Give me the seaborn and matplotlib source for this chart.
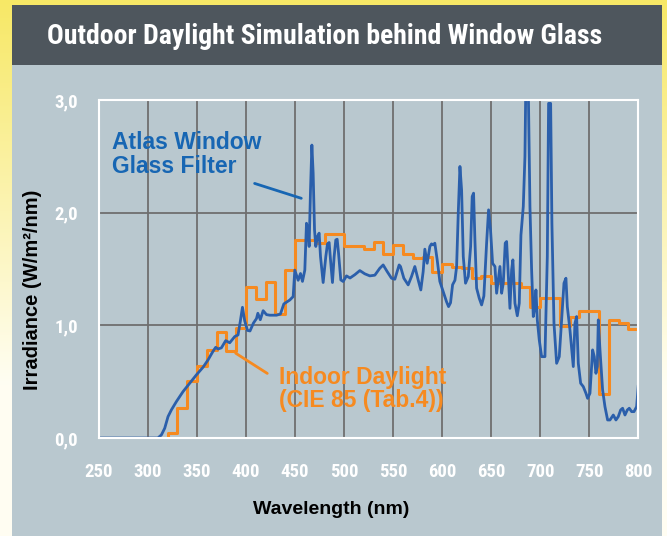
import matplotlib
matplotlib.use("Agg")
import matplotlib.pyplot as plt
from matplotlib import font_manager as fm
from matplotlib.patches import Rectangle
from matplotlib.ticker import FuncFormatter
import seaborn as sns
import numpy as np

# Atlas window glass filter spectrum (nm, W/m2/nm)
glass_wl = [250, 300, 310, 313.6, 317, 320.4, 323.8, 328.9, 335.7, 342.5, 349.3, 356.1, 361.2,
            366.3, 369, 371.4, 374.8, 379.2, 383.3, 388.4, 391.8, 394.2, 396.3, 398.6, 401.4,
            404, 407.5, 410.6, 412, 414.5, 417.4, 420.8, 424.2, 431, 435, 438.5, 444.6, 448,
            449.7, 453.1, 455.5, 457.5, 459.9, 461.6, 463.3, 464.3, 465.7, 467.1, 468.4, 469.8,
            471.1, 472.8, 474.5, 475.9, 478.6, 481.3, 483, 484.7, 486.1, 488.1, 489.8, 491.5,
            492.9, 494.3, 496.6, 499, 502.4, 506, 511, 516, 521.1, 526.2, 531.3, 536.4, 539.8,
            543.9, 548.3, 551.7, 556.1, 557.5, 560.9, 565.3, 568.7, 572.1, 575.5, 578.2, 580.6,
            582.3, 584.7, 587.4, 589.1, 590.8, 592.5, 594.9, 597.6, 601, 604.4, 606.5, 608.5,
            610.6, 613, 614.7, 616.4, 618.1, 619.8, 621.5, 623.8, 626.6, 629, 630.6, 632, 633.4,
            635.1, 637.8, 640.2, 642.5, 645.3, 647.3, 649.3, 651.4, 653.8, 655.5, 657.2, 658.9,
            660.6, 662.3, 664.3, 665.7, 667.4, 669.1, 670.8, 672.1, 674.2, 676.6, 678.6, 680.3,
            682.7, 684.4, 685.5, 687.5, 689.5, 691.2, 692.9, 694.6, 695.6, 697, 699, 701.4,
            704.8, 707.2, 708.5, 710.6, 711.9, 714, 716.7, 719.4, 721.8, 724.2, 726.2, 727.6,
            730.3, 733.7, 735.4, 737.1, 738.8, 741.2, 743.9, 746.6, 748.3, 750.7, 753.4, 755.1,
            756.8, 758.2, 759.2, 760.9, 763.6, 766, 768.7, 771.1, 774.5, 777.2, 779.6, 782, 784,
            786.4, 788.8, 790.8, 793.2, 795.6, 798.3, 800]
glass_irr = [0, 0, 0, 0.027, 0.086, 0.19, 0.249, 0.323, 0.412, 0.486, 0.56, 0.628, 0.693,
             0.77, 0.805, 0.79, 0.80, 0.864, 0.845, 0.90, 0.915, 1.04, 1.16, 1.04, 0.955,
             0.95, 1.02, 1.06, 1.107, 1.05, 1.13, 1.095, 1.09, 1.09, 1.10, 1.19, 1.225, 1.255,
             1.49, 1.40, 1.46, 1.39, 1.49, 1.906, 1.847, 1.70, 2.20, 2.60, 2.35, 1.847,
             1.70, 1.788, 1.818, 1.61, 1.38, 1.61, 1.723, 1.735, 1.581, 1.38, 1.61, 1.758,
             1.764, 1.64, 1.403, 1.389, 1.439, 1.42, 1.45, 1.486, 1.457, 1.439, 1.445, 1.507, 1.536,
             1.477, 1.418, 1.409, 1.536, 1.522, 1.418, 1.359, 1.433, 1.522, 1.403, 1.314, 1.477,
             1.676, 1.551, 1.699, 1.723, 1.714, 1.729, 1.581, 1.39, 1.30, 1.21, 1.166, 1.20,
             1.36, 1.40, 1.52, 2.0, 2.41, 2.20, 1.61, 1.374, 1.433, 1.70, 2.143, 2.173, 1.75,
             1.33, 1.24, 1.181, 1.26, 1.73, 2.025, 1.847, 1.55, 1.522, 1.285, 1.40, 1.522,
             1.285, 1.374, 1.73, 1.744, 1.45, 1.151, 1.492, 1.581, 1.196, 1.085, 1.196, 1.80,
             2.054, 2.5, 3.3, 3.3, 2.054, 1.492, 1.078, 1.166, 1.314, 1.048, 0.870, 0.722,
             0.722, 1.61, 2.97, 2.97, 1.906, 1.018, 0.663, 0.722, 1.048, 1.374, 1.418, 1.166,
             0.959, 0.634, 1.018, 1.078, 0.663, 0.486, 0.456, 0.397, 0.352, 0.397, 0.782, 0.722,
             0.574, 0.634, 1.048, 0.782, 0.426, 0.278, 0.160, 0.160, 0.204, 0.160, 0.190, 0.249, 0.264,
             0.204, 0.249, 0.264, 0.234, 0.234, 0.278, 0.47]

# CIE 85 (Tab.4) indoor daylight, step start wavelengths and values
cie_wl = [250, 320, 330, 340, 350, 360, 370, 380, 390, 400, 410, 420, 430, 440, 450, 470,
          480, 500, 520, 530, 540, 550, 560, 570, 580, 590, 600, 610, 620, 630, 640, 650,
          680, 690, 700, 720, 730, 740, 760, 770, 780, 790, 800]
cie_irr = [0, 0.04, 0.27, 0.505, 0.635, 0.78, 0.94, 0.775, 0.975, 1.34, 1.23, 1.385, 1.10,
           1.49, 1.76, 1.73, 1.81, 1.705, 1.675, 1.74, 1.63, 1.71, 1.63, 1.595, 1.61, 1.477,
           1.545, 1.52, 1.505, 1.418, 1.44, 1.374, 1.34, 1.166, 1.24, 0.99, 1.077, 1.13, 0.39,
           1.048, 1.024, 0.97, 0.97]

x_ticks = [250, 300, 350, 400, 450, 500, 550, 600, 650, 700, 750, 800]
y_ticks = [0, 1, 2, 3]

title = "Outdoor Daylight Simulation behind Window Glass"
blue = "#2b5fab"
blue_txt = "#1766b3"
orange = "#f68a20"
panel = "#b9c8cf"
bar = "#4e565d"

sns.set_theme(style="white")

# pick a narrow bold face if one is installed
names = {f.name for f in fm.fontManager.ttflist}
stretch = "normal"
if "Liberation Sans Narrow" in names:
    narrow = "Liberation Sans Narrow"
elif "Roboto Condensed" in names:
    narrow = "Roboto Condensed"
elif any(f.name == "DejaVu Sans" and f.stretch == "condensed" for f in fm.fontManager.ttflist):
    narrow = "DejaVu Sans"
    stretch = "condensed"
else:
    narrow = "Liberation Sans"
plt.rcParams["font.family"] = [narrow, "DejaVu Sans"]
plt.rcParams["font.stretch"] = stretch
plt.rcParams["font.weight"] = "bold"
wide = ["Liberation Sans", "DejaVu Sans"]

W, H = 667, 536
fig = plt.figure(figsize=(W / 100, H / 100), dpi=100)

# yellow backdrop + dark title bar + grey-blue panel
bg = fig.add_axes([0, 0, 1, 1], zorder=-10)
t = np.linspace(0, 1, 200)[:, None]
top_c = np.array([0.97, 0.91, 0.40])
bot_c = np.array([1.0, 0.995, 0.95])
grad = top_c + (bot_c - top_c) * np.clip(t * 1.4, 0, 1)[..., None]
bg.imshow(grad, aspect="auto", extent=[0, 1, 0, 1])
bg.add_patch(Rectangle((12 / W, 0), 650 / W, (H - 65) / H, color=panel, lw=0))
bg.add_patch(Rectangle((12 / W, (H - 65) / H), 650 / W, 60 / H, color=bar, lw=0))
bg.set_xlim(0, 1)
bg.set_ylim(0, 1)
bg.axis("off")

fig.text(47 / W, 1 - 36 / H, title, color="white", fontsize=20, fontweight="bold",
         va="center", ha="left")

ax = fig.add_axes([99 / W, 98 / H, 539.3 / W, 338 / H])
ax.set_facecolor(panel)

sns.lineplot(x=cie_wl, y=cie_irr, drawstyle="steps-post", color=orange, lw=2.2,
             estimator=None, sort=False, ax=ax)
sns.lineplot(x=glass_wl, y=glass_irr, color=blue, lw=2.0, estimator=None, sort=False, ax=ax)

ax.set_xlim(250, 800)
ax.set_ylim(0, 3)
ax.set_xticks(x_ticks)
ax.set_yticks(y_ticks)
ax.yaxis.set_major_formatter(FuncFormatter(lambda v, p: f"{v:.1f}".replace(".", ",")))
ax.grid(True, color="#6f6f6f", lw=1.3)
ax.set_axisbelow(True)
for s in ax.spines.values():
    s.set_color("white")
    s.set_linewidth(1.5)
ax.tick_params(axis="x", colors="white", length=6, width=1.2, labelsize=13.5, pad=12)
ax.tick_params(axis="y", colors="white", length=6, width=1.2, labelsize=13.5, pad=9)
plt.setp(ax.get_xticklabels() + ax.get_yticklabels(), fontweight="bold")

ax.set_xlabel("Wavelength (nm)", fontsize=14, fontweight="bold", color="black", family=wide)
ax.set_ylabel("Irradiance (W/m²/nm)", fontsize=14.5, fontweight="bold", color="black", family=wide)
ax.xaxis.set_label_coords(0.43, -0.185)
ax.yaxis.set_label_coords(-0.106, 0.438)

# callouts
ax.text(263, 2.515, "Atlas Window\nGlass Filter", color=blue_txt, fontsize=16.5,
        fontweight="bold", ha="left", va="center", linespacing=1.05, family=wide)
ax.annotate("", xy=(459, 2.12), xytext=(406, 2.267),
            arrowprops=dict(arrowstyle="-", color=blue_txt, lw=2))
ax.text(434, 0.435, "Indoor Daylight\n(CIE 85 (Tab.4))", color=orange, fontsize=16.5,
        fontweight="bold", ha="left", va="center", linespacing=1.05, family=wide)
ax.annotate("", xy=(424, 0.56), xytext=(387, 0.766),
            arrowprops=dict(arrowstyle="-", color=orange, lw=2))

fig.savefig("out.png", dpi=100)
